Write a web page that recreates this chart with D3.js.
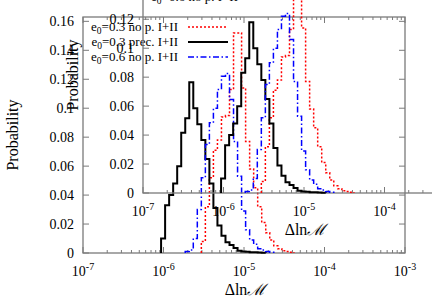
<!DOCTYPE html>
<html>
<head>
<meta charset="utf-8">
<script src="https://cdn.jsdelivr.net/npm/d3@7"></script>
<style>
  body { margin: 0; background: #fff; }
  svg { display: block; }
  text { font-family: "Liberation Serif", "Times New Roman", "DejaVu Serif", serif; fill: #000; }
</style>
</head>
<body>
<div id="chart"></div>
<script>
// histogram bins: log10 of the first bin edge and the bin width (in decades)
const binStartLog = -6.03;
const binWidthLog = 0.05;

// probability per bin
const redNoPrec03 = [0, 0, 0, 0, 0, 0, 0, 0, 0, 0,
  0.008, 0.032, 0.052, 0.071, 0.078, 0.094, 0.095, 0.113, 0.152, 0.152,
  0.114, 0.077, 0.058, 0.045, 0.032, 0.021, 0.014, 0.009, 0.005, 0.003,
  0.0015, 0.001, 0.0005];
const blackPrec03 = [0.010, 0.033, 0.040, 0.048, 0.060, 0.083, 0.093, 0.118, 0.100, 0.089,
  0.078, 0.065, 0.048, 0.031, 0.019, 0.012, 0.0075, 0.0055, 0.0035, 0.0015,
  0.001, 0.0008, 0.0005, 0.0005, 0.0003, 0.0002];
const blueNoPrec06 = [0, 0, 0, 0, 0, 0, 0.001, 0.002, 0.010, 0.030,
  0.052, 0.075, 0.090, 0.100, 0.113, 0.122, 0.124, 0.106, 0.077, 0.053,
  0.029, 0.016, 0.009, 0.006, 0.003, 0.002, 0.001, 0.0005];

const seriesNames = ["=0.3 no p. I+II", "=0.3 prec. I+II", "=0.6 no p. I+II"];
const yTicks = [0, 0.02, 0.04, 0.06, 0.08, 0.1, 0.12, 0.14, 0.16];
const xDecades = [-7, -6, -5, -4, -3];

const W = 432, H = 302;
const svg = d3.select("#chart").append("svg").attr("width", W).attr("height", H);

const margin = { left: 83, right: 27, top: 17, bottom: 49 };
const x = d3.scaleLog().domain([1e-7, 1e-3]).range([margin.left, W - margin.right]);
const y = d3.scaleLinear().domain([0, 0.163]).range([H - margin.bottom, margin.top]);

const series = [
  { values: redNoPrec03, color: "#ff0000", dash: "2,2", width: 1.5 },
  { values: blackPrec03, color: "#000000", dash: null, width: 2 },
  { values: blueNoPrec06, color: "#0000ff", dash: "6,2.5,1.5,2.5", width: 1.5 }
];

function stepPoints(values) {
  const first = values.findIndex(v => v > 0);
  let last = values.length - 1;
  while (values[last] <= 0) last--;
  const pts = [[Math.pow(10, binStartLog + first * binWidthLog), 0]];
  for (let k = first; k <= last; k++) {
    pts.push([Math.pow(10, binStartLog + k * binWidthLog), values[k]]);
  }
  pts.push([Math.pow(10, binStartLog + (last + 1) * binWidthLog), 0]);
  return pts;
}

const line = d3.line()
  .x(d => x(d[0]))
  .y(d => y(d[1]))
  .curve(d3.curveStepAfter);

// gnuplot drew the same plot twice (second one shifted up/right)
function drawPanel(g) {
  const x0 = x.range()[0], x1 = x.range()[1];
  const y0 = y.range()[0], y1 = y.range()[1];
  const axisColor = "#7a7a7a";

  // ticks
  const minor = [];
  xDecades.slice(0, -1).forEach(e => {
    for (let m = 2; m <= 9; m++) minor.push(m * Math.pow(10, e));
  });
  const majors = xDecades.map(e => Math.pow(10, e));

  const tickG = g.append("g").attr("stroke", axisColor).attr("stroke-width", 1);
  majors.forEach(v => {
    tickG.append("line").attr("x1", x(v)).attr("x2", x(v)).attr("y1", y0).attr("y2", y0 - 6);
    tickG.append("line").attr("x1", x(v)).attr("x2", x(v)).attr("y1", y1).attr("y2", y1 + 6);
  });
  minor.forEach(v => {
    tickG.append("line").attr("x1", x(v)).attr("x2", x(v)).attr("y1", y0).attr("y2", y0 - 3);
    tickG.append("line").attr("x1", x(v)).attr("x2", x(v)).attr("y1", y1).attr("y2", y1 + 3);
  });
  yTicks.forEach(v => {
    tickG.append("line").attr("x1", x0).attr("x2", x0 + 6).attr("y1", y(v)).attr("y2", y(v));
    tickG.append("line").attr("x1", x1).attr("x2", x1 - 6).attr("y1", y(v)).attr("y2", y(v));
  });

  g.append("rect")
    .attr("x", x0).attr("y", y1)
    .attr("width", x1 - x0).attr("height", y0 - y1)
    .attr("fill", "none").attr("stroke", axisColor).attr("stroke-width", 1.3);

  // tick labels
  yTicks.forEach(v => {
    g.append("text")
      .attr("x", x0 - 9).attr("y", y(v)).attr("dy", "0.35em")
      .attr("text-anchor", "end").attr("font-size", 14)
      .text(d3.format("~g")(v));
  });
  xDecades.forEach(e => {
    const t = g.append("text")
      .attr("x", x(Math.pow(10, e))).attr("y", y0 + 23)
      .attr("text-anchor", "middle").attr("font-size", 14);
    t.append("tspan").text("10");
    t.append("tspan").attr("dy", -6).attr("font-size", 10).text(e);
  });

  // axis labels
  g.append("text")
    .attr("transform", `translate(18,${(y0 + y1) / 2}) rotate(-90)`)
    .attr("text-anchor", "middle").attr("font-size", 16)
    .text("Probability");
  const xl = g.append("text")
    .attr("x", (x0 + x1) / 2 + 1).attr("y", H - 7)
    .attr("text-anchor", "middle").attr("font-size", 16);
  xl.append("tspan").text("\u0394ln");
  xl.append("tspan").attr("font-family", "DejaVu Serif, serif").attr("font-style", "italic").text("\u2133");

  // histograms
  series.forEach(s => {
    g.append("path")
      .attr("d", line(stepPoints(s.values)))
      .attr("fill", "none")
      .attr("stroke", s.color)
      .attr("stroke-width", s.width)
      .attr("stroke-dasharray", s.dash);
  });

  // key
  series.forEach((s, i) => {
    const ly = 27 + i * 15;
    const t = g.append("text")
      .attr("x", 178).attr("y", ly + 4)
      .attr("text-anchor", "end").attr("font-size", 13);
    t.append("tspan").text("e");
    t.append("tspan").attr("dy", 3).attr("font-size", 9.5).text("0");
    t.append("tspan").attr("dy", -3).text(seriesNames[i]);
    g.append("line")
      .attr("x1", 188).attr("x2", 228).attr("y1", ly).attr("y2", ly)
      .attr("stroke", s.color)
      .attr("stroke-width", s.width)
      .attr("stroke-dasharray", s.dash);
  });
}

drawPanel(svg.append("g"));
drawPanel(svg.append("g").attr("transform", "translate(60,-60)"));
</script>
</body>
</html>
